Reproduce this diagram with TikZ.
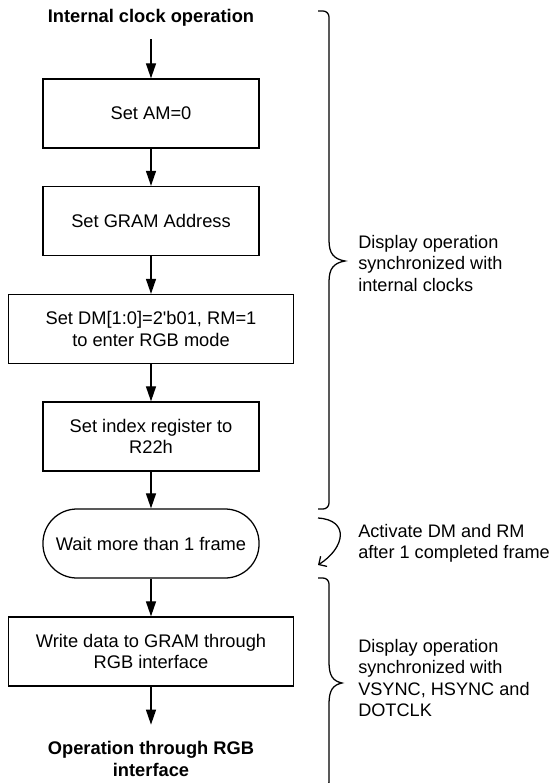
\documentclass[tikz,border=0pt]{standalone}
\usepackage{fontspec}
\setmainfont{Liberation Sans}
\usetikzlibrary{arrows.meta,positioning}

\begin{document}
\begin{tikzpicture}[x=0.025cm, y=-0.025cm,
  box/.style={draw, line width=0.9pt, minimum width=5.4cm, minimum height=1.725cm, align=center, font=\fontsize{13}{15.2}\selectfont},
  widebox/.style={box, minimum width=7.125cm},
  term/.style={box, rounded corners=0.85cm},
  lbl/.style={align=center, font=\fontsize{13}{15.2}\selectfont\bfseries},
  note/.style={anchor=west, align=left, inner sep=0pt, font=\fontsize{12.9}{15.2}\selectfont},
  flow/.style={line width=0.9pt, -{Triangle[length=0.375cm, width=0.25cm]}},
  brace/.style={line width=0.9pt}]
  \useasboundingbox (0,0) rectangle (552,783);

  % Flow chart
  \node[lbl] (start) at (151,18) {Internal clock operation};
  \node[box] (am) at (151,113.5) {Set AM=0};
  \node[box] (gram) at (151,221) {Set GRAM Address};
  \node[widebox] (dm) at (151,329) {Set DM[1:0]=2\textquotesingle b01, RM=1\\to enter RGB mode};
  \node[box] (idx) at (151,436.5) {Set index register to\\R22h};
  \node[term] (wait) at (151,543.5) {Wait more than 1 frame};
  \node[widebox] (wr) at (151,651.5) {Write data to GRAM through\\RGB interface};
  \node[lbl] (stop) at (151,759) {Operation through RGB\\interface};

  \draw[flow, shorten <=0.2cm] (start) -- (am);
  \draw[flow] (am) -- (gram);
  \draw[flow] (gram) -- (dm);
  \draw[flow] (dm) -- (idx);
  \draw[flow] (idx) -- (wait);
  \draw[flow] (wait) -- (wr);
  \draw[flow, shorten >=0.3cm] (wr) -- (stop);

  % Braces
  \draw[brace] (318,11) -- (323,11) to[out=0,in=90] (329,17) -- (329,240)
    .. controls (329,254) and (334,259) .. (345,261)
    .. controls (334,263) and (329,268) .. (329,282) -- (329,503)
    to[out=-90,in=0] (323,509) -- (318,509);
  \draw[brace] (318,578) -- (323,578) to[out=0,in=90] (329,584) -- (329,662)
    .. controls (329,676) and (333,681) .. (342,683)
    .. controls (333,685) and (329,690) .. (329,704) -- (329,782)
    to[out=-90,in=0] (323,788) -- (318,788);

  % Frame switch
  \coordinate (sw1) at (318,518);
  \coordinate (sw2) at (318,565);
  \draw[line width=0.9pt, -{Straight Barb[length=0.15cm, width=0.3cm]}] (sw1) .. controls (350,520) and (345,548) .. (sw2);

  % Notes
  \node[note] (n1) at (358,263.5) {Display operation\\synchronized with\\internal clocks};
  \node[note] (n2) at (358,543) {Activate DM and RM\\after 1 completed frame};
  \node[note] (n3) at (358,678) {Display operation\\synchronized with\\VSYNC, HSYNC and\\DOTCLK};
\end{tikzpicture}
\end{document}
